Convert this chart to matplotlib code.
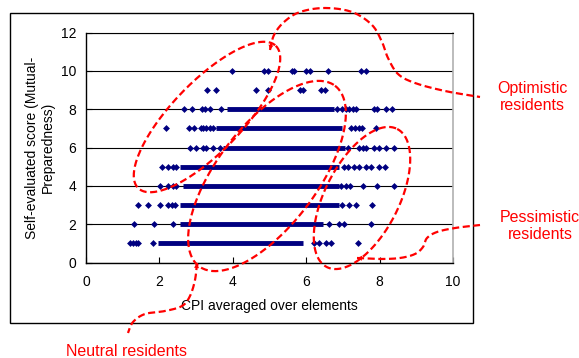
import numpy as np
import matplotlib
matplotlib.use("Agg")
import matplotlib.pyplot as plt
from matplotlib.transforms import Affine2D
from matplotlib.lines import Line2D
from matplotlib.patches import FancyArrowPatch, Rectangle

plt.rcParams['font.family'] = ['Liberation Sans', 'DejaVu Sans']

# ---------------- data ----------------
score_levels = [1, 2, 3, 4, 5, 6, 7, 8, 9, 10]
# continuous (densely packed) runs of points per score level
dense_start = [1.97, 2.55, 2.55, 2.64, 2.55, 3.73, 3.55, 3.84, np.nan, np.nan]
dense_end = [5.90, 6.45, 6.90, 6.90, 6.90, 7.05, 6.98, 6.77, np.nan, np.nan]
# isolated points per score level
row1_x = [1.20, 1.27, 1.35, 1.42, 1.83, 6.22, 6.36, 6.54, 6.68, 7.40]
row2_x = [1.31, 1.86, 2.37, 6.63, 6.90, 7.04, 7.76]
row3_x = [1.42, 1.69, 2.01, 2.24, 2.33, 2.42, 6.98, 7.17, 7.35, 7.80]
row4_x = [2.01, 2.24, 2.37, 2.46, 6.95, 7.09, 7.18, 7.54, 7.94, 8.39]
row5_x = [2.06, 2.24, 2.37, 2.46, 7.04, 7.15, 7.30, 7.45, 7.63, 7.76, 7.99, 8.15]
row6_x = [2.83, 3.00, 3.18, 3.28, 3.46, 3.64, 7.15, 7.45, 7.55, 7.63, 7.85, 7.99, 8.17, 8.39]
row7_x = [2.19, 2.80, 2.94, 3.12, 3.20, 3.28, 3.37, 3.46, 7.23, 7.33, 7.43, 7.53, 7.90]
row8_x = [2.67, 2.90, 3.16, 3.25, 3.37, 3.68, 6.85, 6.98, 7.08, 7.17, 7.27, 7.36, 7.85, 7.93, 8.18, 8.34]
row9_x = [3.29, 3.53, 4.62, 4.95, 5.82, 5.90, 6.41, 6.52]
row10_x = [3.97, 4.84, 4.95, 5.60, 5.68, 6.00, 6.10, 6.60, 7.50, 7.64]
sparse_rows = [row1_x, row2_x, row3_x, row4_x, row5_x, row6_x, row7_x, row8_x, row9_x, row10_x]

x_ticks = [0, 2, 4, 6, 8, 10]
y_ticks = [0, 2, 4, 6, 8, 10, 12]
x_label = "CPI averaged over elements"
y_label = "Self-evaluated score (Mutual-\nPreparedness)"
group_labels = ["Optimistic\nresidents", "Pessimistic\nresidents", "Neutral residents"]

# ---------------- figure ----------------
W, H = 579, 358
fig = plt.figure(figsize=(W / 100, H / 100), dpi=100)
ax = fig.add_axes([86 / W, 1 - 262.5 / H, (453 - 86) / W, (262.5 - 32.7) / H])

navy = '#000080'
for lvl, xs in zip(score_levels, sparse_rows):
    ax.plot(xs, [lvl] * len(xs), linestyle='none', marker='D', markersize=3.5,
            color=navy, markeredgewidth=0, zorder=3)
ax.hlines(score_levels, dense_start, dense_end, colors=navy, linewidth=3.5, zorder=3)

ax.set_xlim(0, 10)
ax.set_ylim(0, 12)
ax.set_xticks(x_ticks)
ax.set_yticks(y_ticks)
ax.tick_params(direction='in', length=4, width=0.8, labelsize=10, colors='black', pad=7)
ax.tick_params(axis='x', pad=9)
ax.yaxis.grid(True, color='black', linewidth=0.8)
ax.set_axisbelow(True)
for s in ['left', 'bottom']:
    ax.spines[s].set_color('black')
    ax.spines[s].set_linewidth(1.0)
ax.spines['top'].set_color('black')
ax.spines['top'].set_linewidth(0.8)
ax.spines['right'].set_color('#b0b0b0')
ax.spines['right'].set_linewidth(1.2)
ax.set_xlabel(x_label, fontsize=10, labelpad=7)
ax.set_ylabel(y_label, fontsize=10, labelpad=4, multialignment='center')

# ---------------- annotations (pixel coords, origin top-left) ----------------
pix = Affine2D().scale(1 / W, -1 / H).translate(0, 1) + fig.transFigure

# outer chart border
fig.patches.append(Rectangle((10, 13), 463, 310, fill=False, edgecolor='black',
                             linewidth=1.0, transform=pix, figure=fig))

red = '#ff0000'
dash = (0, (3.2, 1.6))


def ellipse_pts(cx, cy, length, width, ang_deg, n=200):
    t = np.linspace(0, 2 * np.pi, n)
    a = np.radians(ang_deg)
    u = np.array([np.cos(a), -np.sin(a)])
    v = np.array([np.sin(a), np.cos(a)])
    x = cx + length / 2 * np.cos(t) * u[0] + width / 2 * np.sin(t) * v[0]
    y = cy + length / 2 * np.cos(t) * u[1] + width / 2 * np.sin(t) * v[1]
    return x, y


def smooth(pts, n=20):
    p = np.array(pts, dtype=float)
    p = np.vstack([p[0], p, p[-1]])
    out = []
    for i in range(1, len(p) - 2):
        p0, p1, p2, p3 = p[i - 1], p[i], p[i + 1], p[i + 2]
        for t in np.linspace(0, 1, n, endpoint=False):
            out.append(0.5 * ((2 * p1) + (-p0 + p2) * t + (2 * p0 - 5 * p1 + 4 * p2 - p3) * t ** 2
                              + (-p0 + 3 * p1 - 3 * p2 + p3) * t ** 3))
    out.append(p[-2])
    return np.array(out)


def draw_line(x, y):
    fig.add_artist(Line2D(x, y, transform=pix, color=red, linewidth=1.6, linestyle=dash,
                          dash_capstyle='butt'))


for (cx, cy, L, Wd, ang) in [(207, 117, 198, 70, 46), (267, 176, 226, 100, 53),
                             (362, 198, 155, 74, 63)]:
    ex, ey = ellipse_pts(cx, cy, L, Wd, ang)
    draw_line(ex, ey)

curves = [
    [(270, 50), (274, 35), (284, 22), (300, 12), (325, 8), (352, 12), (372, 25),
     (382, 42), (388, 58), (398, 74), (415, 83), (445, 91), (480, 97)],
    [(197, 263), (195, 280), (190, 296), (182, 306), (165, 311), (145, 314),
     (133, 322), (128, 333)],
    [(357, 258), (380, 259), (400, 258), (415, 254), (423, 247), (427, 238),
     (437, 232), (455, 228), (480, 225)],
]
for c in curves:
    s = smooth(c)
    draw_line(s[:, 0], s[:, 1])
    arr = FancyArrowPatch(tuple(s[6]), tuple(s[0]), transform=pix, arrowstyle='-|>',
                          mutation_scale=9, color=red, linewidth=0, shrinkA=0, shrinkB=0)
    fig.add_artist(arr)

fig.text(532 / W, 1 - 97 / H, group_labels[0], color=red, fontsize=11.5,
         ha='center', va='center', linespacing=1.15)
fig.text(540 / W, 1 - 226 / H, group_labels[1], color=red, fontsize=11.5,
         ha='center', va='center', linespacing=1.15)
fig.text(127 / W, 1 - 351 / H, group_labels[2], color=red, fontsize=11.5,
         ha='center', va='center')

fig.savefig("out.png", dpi=100)
